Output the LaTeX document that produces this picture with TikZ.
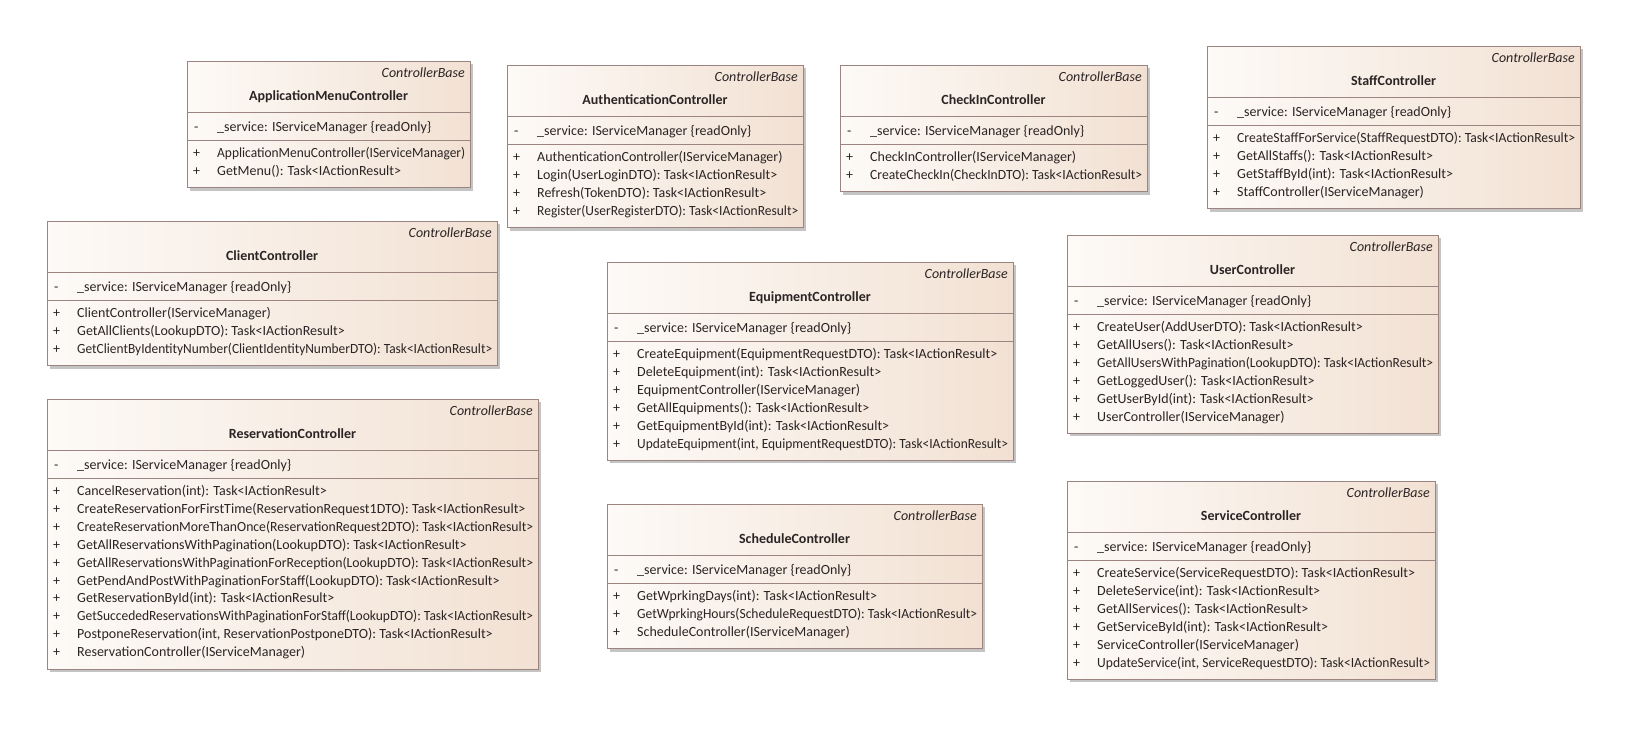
\documentclass[tikz,border=0pt]{standalone}
\usepackage{fontspec}
\setmainfont{Carlito}
\usepackage{graphicx}

\definecolor{boxL}{HTML}{FDFAF7}
\definecolor{boxR}{HTML}{F2E1D3}
\definecolor{boxline}{HTML}{9C8480}
\definecolor{txt}{HTML}{2B2424}
\definecolor{shadowc}{HTML}{C4C4C4}

% squeeze a line horizontally when it is wider than the room it has
\newcommand\fitline[2]{\sbox0{#2}\ifdim\wd0>#1\relax\resizebox{#1}{\height}{#2}\else\usebox0\fi}

\tikzset{
  classbox/.style={draw=boxline, line width=0.9pt, left color=boxL, right color=boxR,
                   inner sep=0pt, outer sep=0pt},
  shadowbox/.style={fill=shadowc},
  sepline/.style={draw=boxline, line width=0.9pt},
  stereo/.style={inner sep=0pt, text=txt, font=\fontsize{14}{17}\selectfont\itshape, anchor=base east},
  cname/.style={inner sep=0pt, text=txt, font=\fontsize{14}{17}\selectfont\bfseries, anchor=base},
  member/.style={inner sep=0pt, text=txt, font=\fontsize{14}{17}\selectfont, anchor=base west},
}

% #1 id, #2 left, #3 top, #4 width, #5 number of operations, #6 class name, #7 operations
\newcommand\umlclass[7]{%
  \pgfmathsetmacro\clsh{91+17.9*#5}
  \fill[shadowbox] (#2+3,#3+3) rectangle ++(#4,\clsh);
  \node[classbox, anchor=north west, minimum width=#4pt, minimum height=\clsh pt] (#1) at (#2,#3) {};
  \draw[sepline] ([yshift=-51pt]#1.north west) -- ([yshift=-51pt]#1.north east);
  \draw[sepline] ([yshift=-79pt]#1.north west) -- ([yshift=-79pt]#1.north east);
  \node[stereo] (#1-st) at ([xshift=-5pt,yshift=-16.5pt]#1.north east) {ControllerBase};
  \node[cname] (#1-nm) at ([yshift=-39pt]#1.north) {#6};
  \node[member] (#1-av) at ([xshift=7pt,yshift=-70pt]#1.north west) {-};
  \node[member] (#1-at) at ([xshift=30pt,yshift=-70pt]#1.north west) {\_service: IServiceManager \{readOnly\}};
  \foreach \op [count=\k from 0] in {#7} {
    \node[member] (#1-v\k) at ([xshift=6pt,yshift={-96.5pt-17.9pt*\k}]#1.north west) {+};
    \node[member] (#1-op\k) at ([xshift=30pt,yshift={-96.5pt-17.9pt*\k}]#1.north west)
      {\fitline{\dimexpr#4pt-35pt\relax}{\op}};
  }
}

\begin{document}
\begin{tikzpicture}[x=1pt,y=-1pt]
  \fill[white] (0,0) rectangle (1633,731);
  \useasboundingbox (0,0) rectangle (1633,731);

  \umlclass{app}{187}{61}{283}{2}{ApplicationMenuController}{%
    {ApplicationMenuController(IServiceManager)},
    {GetMenu(): Task<IActionResult>}}

  \umlclass{auth}{507}{65}{296}{4}{AuthenticationController}{%
    {AuthenticationController(IServiceManager)},
    {Login(UserLoginDTO): Task<IActionResult>},
    {Refresh(TokenDTO): Task<IActionResult>},
    {Register(UserRegisterDTO): Task<IActionResult>}}

  \umlclass{checkin}{840}{65}{307}{2}{CheckInController}{%
    {CheckInController(IServiceManager)},
    {CreateCheckIn(CheckInDTO): Task<IActionResult>}}

  \umlclass{staff}{1207}{46}{373}{4}{StaffController}{%
    {CreateStaffForService(StaffRequestDTO): Task<IActionResult>},
    {GetAllStaffs(): Task<IActionResult>},
    {GetStaffById(int): Task<IActionResult>},
    {StaffController(IServiceManager)}}

  \umlclass{client}{47}{221}{450}{3}{ClientController}{%
    {ClientController(IServiceManager)},
    {GetAllClients(LookupDTO): Task<IActionResult>},
    {GetClientByIdentityNumber(ClientIdentityNumberDTO): Task<IActionResult>}}

  \umlclass{equip}{607}{262}{406}{6}{EquipmentController}{%
    {CreateEquipment(EquipmentRequestDTO): Task<IActionResult>},
    {DeleteEquipment(int): Task<IActionResult>},
    {EquipmentController(IServiceManager)},
    {GetAllEquipments(): Task<IActionResult>},
    {GetEquipmentById(int): Task<IActionResult>},
    {UpdateEquipment(int, EquipmentRequestDTO): Task<IActionResult>}}

  \umlclass{user}{1067}{235}{371}{6}{UserController}{%
    {CreateUser(AddUserDTO): Task<IActionResult>},
    {GetAllUsers(): Task<IActionResult>},
    {GetAllUsersWithPagination(LookupDTO): Task<IActionResult>},
    {GetLoggedUser(): Task<IActionResult>},
    {GetUserById(int): Task<IActionResult>},
    {UserController(IServiceManager)}}

  \umlclass{resv}{47}{399}{491}{10}{ReservationController}{%
    {CancelReservation(int): Task<IActionResult>},
    {CreateReservationForFirstTime(ReservationRequest1DTO): Task<IActionResult>},
    {CreateReservationMoreThanOnce(ReservationRequest2DTO): Task<IActionResult>},
    {GetAllReservationsWithPagination(LookupDTO): Task<IActionResult>},
    {GetAllReservationsWithPaginationForReception(LookupDTO): Task<IActionResult>},
    {GetPendAndPostWithPaginationForStaff(LookupDTO): Task<IActionResult>},
    {GetReservationById(int): Task<IActionResult>},
    {GetSuccededReservationsWithPaginationForStaff(LookupDTO): Task<IActionResult>},
    {PostponeReservation(int, ReservationPostponeDTO): Task<IActionResult>},
    {ReservationController(IServiceManager)}}

  \umlclass{sched}{607}{504}{375}{3}{ScheduleController}{%
    {GetWprkingDays(int): Task<IActionResult>},
    {GetWprkingHours(ScheduleRequestDTO): Task<IActionResult>},
    {ScheduleController(IServiceManager)}}

  \umlclass{service}{1067}{481}{368}{6}{ServiceController}{%
    {CreateService(ServiceRequestDTO): Task<IActionResult>},
    {DeleteService(int): Task<IActionResult>},
    {GetAllServices(): Task<IActionResult>},
    {GetServiceById(int): Task<IActionResult>},
    {ServiceController(IServiceManager)},
    {UpdateService(int, ServiceRequestDTO): Task<IActionResult>}}
\end{tikzpicture}
\end{document}
